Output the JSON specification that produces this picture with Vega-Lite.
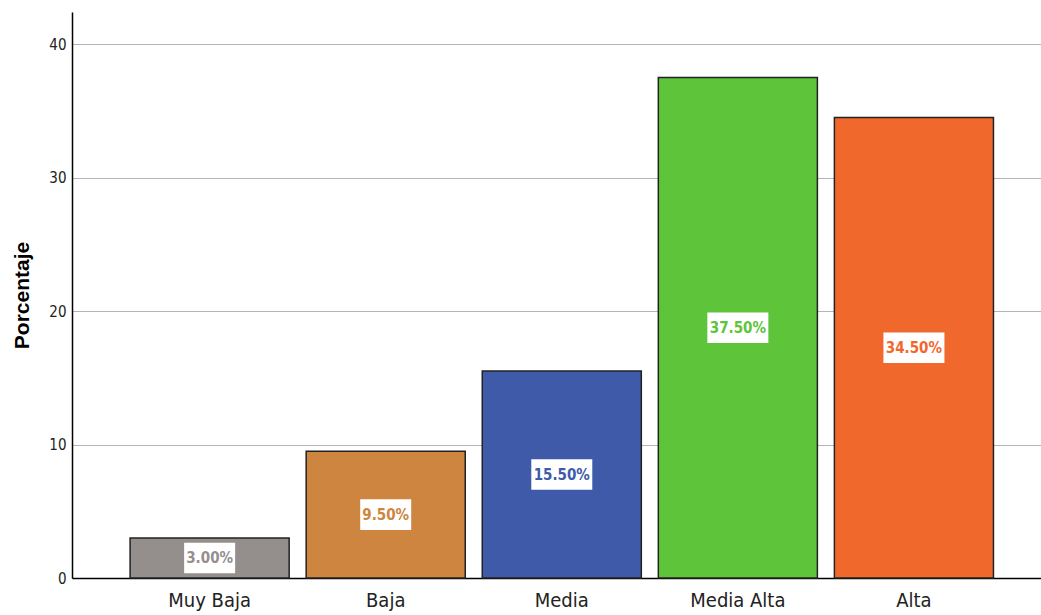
{
  "$schema": "https://vega.github.io/schema/vega-lite/v6.json",
  "width": 969,
  "height": 566,
  "autosize": {"type": "none"},
  "padding": {"left": 72, "top": 12, "right": 0, "bottom": 37},
  "background": "white",
  "config": {"view": {"stroke": null}},
  "data": {
    "values": [
      {"cat": "Muy Baja", "pct": 3.0, "label": "3.00%"},
      {"cat": "Baja", "pct": 9.5, "label": "9.50%"},
      {"cat": "Media", "pct": 15.5, "label": "15.50%"},
      {"cat": "Media Alta", "pct": 37.5, "label": "37.50%"},
      {"cat": "Alta", "pct": 34.5, "label": "34.50%"}
    ]
  },
  "encoding": {
    "x": {
      "field": "cat",
      "type": "nominal",
      "sort": null,
      "scale": {"paddingInner": 0.0966, "paddingOuter": 0.3, "align": 0.55},
      "axis": {
        "title": null,
        "labelAngle": 0,
        "labelFont": "'DejaVu Sans Condensed', 'Liberation Sans', sans-serif",
        "labelFontSize": 20,
        "labelColor": "#222222",
        "labelPadding": 12,
        "ticks": false,
        "domainColor": "#000000",
        "domainWidth": 1.5
      }
    },
    "color": {
      "field": "cat",
      "type": "nominal",
      "scale": {
        "domain": ["Muy Baja", "Baja", "Media", "Media Alta", "Alta"],
        "range": ["#948f8c", "#cd8540", "#3e5aa9", "#5ec43a", "#f1682d"]
      },
      "legend": null
    }
  },
  "layer": [
    {
      "mark": {"type": "bar", "stroke": "#222222", "strokeWidth": 1.5},
      "encoding": {
        "y": {
          "field": "pct",
          "type": "quantitative",
          "scale": {"domain": [0, 42.4], "nice": false},
          "axis": {
            "values": [0, 10, 20, 30, 40],
            "ticks": false,
            "labelFont": "'DejaVu Sans Condensed', 'Liberation Sans', sans-serif",
            "labelFontSize": 15,
            "labelColor": "#222222",
            "labelPadding": 6,
            "domainColor": "#000000",
            "domainWidth": 1.5,
            "gridColor": "#b4b4b4",
            "gridWidth": 1,
            "title": "Porcentaje",
            "titleFont": "Liberation Sans",
            "titleFontSize": 21,
            "titleFontWeight": "bold",
            "titleColor": "#000000",
            "titleAngle": -90,
            "titleAlign": "center",
            "titleBaseline": "alphabetic",
            "titleX": -44,
            "titleY": 283
          }
        }
      }
    },
    {
      "mark": {"type": "point", "filled": true, "fill": "white", "opacity": 1, "strokeWidth": 0},
      "encoding": {
        "y": {
          "field": "pct",
          "type": "quantitative",
          "scale": {"domain": [0, 84.8], "nice": false},
          "axis": null
        },
        "color": {"value": "white"},
        "shape": {
          "condition": {"test": "datum.pct >= 10", "value": "M-1,-0.5L1,-0.5L1,0.5L-1,0.5Z"},
          "value": "M-1,-0.6L1,-0.6L1,0.6L-1,0.6Z"
        },
        "size": {
          "condition": {"test": "datum.pct >= 10", "value": 3721},
          "value": 2601
        }
      }
    },
    {
      "mark": {
        "type": "text",
        "font": "'DejaVu Sans Condensed', 'Liberation Sans', sans-serif",
        "fontWeight": "bold",
        "fontSize": 15,
        "baseline": "middle",
        "align": "center"
      },
      "encoding": {
        "y": {
          "field": "pct",
          "type": "quantitative",
          "scale": {"domain": [0, 84.8], "nice": false},
          "axis": null
        },
        "text": {"field": "label"}
      }
    }
  ],
  "resolve": {"scale": {"y": "independent"}}
}
